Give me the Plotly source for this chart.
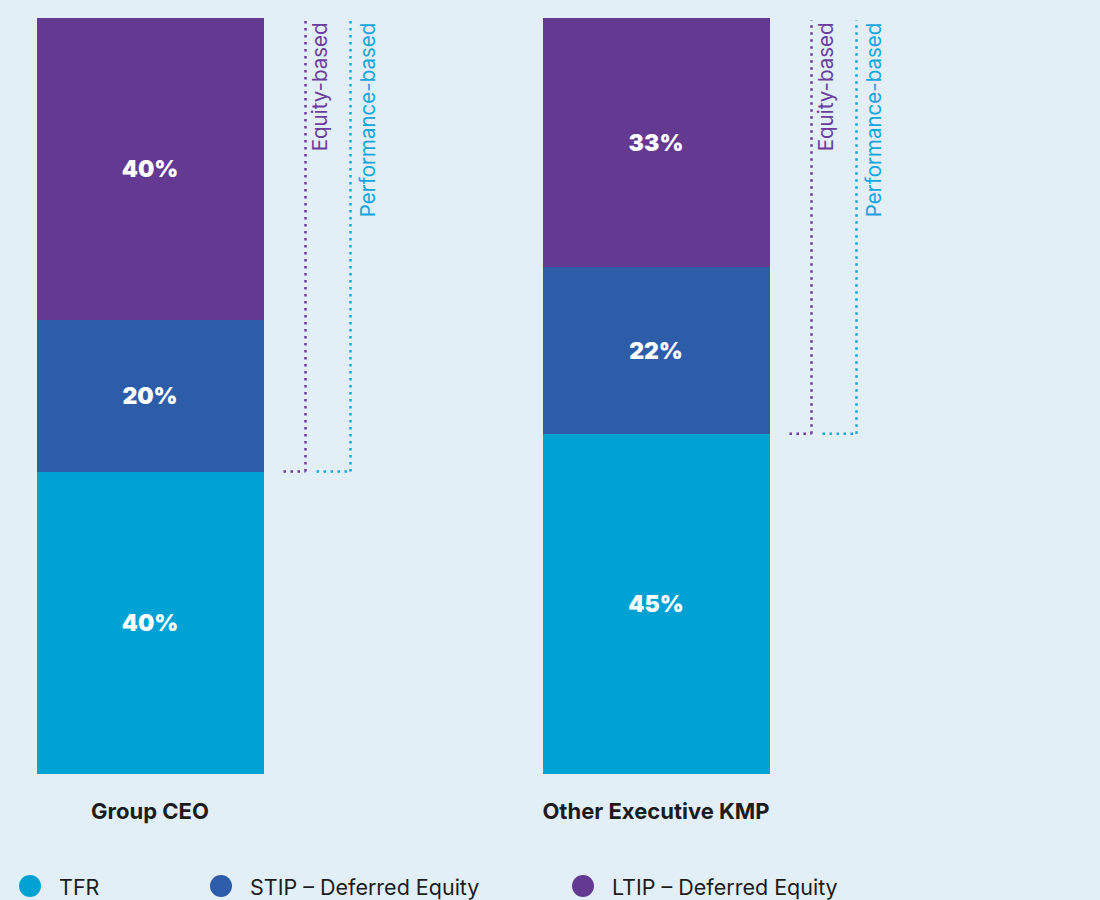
import plotly.graph_objects as go

categories = ["Group CEO", "Other Executive KMP"]
series_names = ["TFR", "STIP – Deferred Equity", "LTIP – Deferred Equity"]
tfr = [40, 45]
stip = [20, 22]
ltip = [40, 33]
colors = ["#00A2D4", "#2D5DA8", "#633991"]
bracket_labels = ["Equity-based", "Performance-based"]
bracket_colors = ["#6A3E9E", "#14A6DA"]

PX = 506.0  # pixels per x unit
xpos = [0, 1]
FONT = "Inter"
PLOT_TOP, PLOT_BOT = 18, 774


def py(p):
    return (PLOT_BOT - p) / (PLOT_BOT - PLOT_TOP)


fig = go.Figure()
for name, vals, col in zip(series_names, [tfr, stip, ltip], colors):
    fig.add_trace(go.Bar(
        x=xpos, y=vals, name=name, marker=dict(color=col, line=dict(width=0)),
        width=227 / PX, text=[f"{v}%" for v in vals], textposition="inside",
        insidetextanchor="middle", textangle=0,
        textfont=dict(family=FONT, size=23, color="white", weight=900),
        showlegend=False, hoverinfo="skip"))

shapes = []
annotations = []
for i, x in enumerate(xpos):
    edge = x + (227 / 2) / PX
    base = tfr[i]
    offs = [(20, 42, 56), (53, 87, 104)]
    for (h0, v, tx), col, lab in zip(offs, bracket_colors, bracket_labels):
        xv = edge + v / PX
        shapes.append(dict(type="line", xref="x", yref="y", x0=xv, x1=xv, y0=base, y1=99.7,
                           line=dict(color=col, width=2.5, dash="2.5px,4.5px")))
        shapes.append(dict(type="line", xref="x", yref="y", x0=edge + h0 / PX, x1=xv, y0=base, y1=base,
                           line=dict(color=col, width=2.5, dash="2.5px,4.5px")))
        annotations.append(dict(x=edge + tx / PX, y=99.7, xref="x", yref="y", text=lab,
                                textangle=-90, showarrow=False, xanchor="center", yanchor="top",
                                font=dict(family=FONT, size=20.5, color=col)))

# legend (manual, circles)
leg_x = [30, 221, 583]
for lx, name, col in zip(leg_x, series_names, colors):
    shapes.append(dict(type="circle", xref="paper", yref="paper",
                       x0=(lx - 11) / 1100, x1=(lx + 11) / 1100,
                       y0=py(897), y1=py(875),
                       fillcolor=col, line=dict(width=0)))
    annotations.append(dict(x=(lx + 27) / 1100, y=py(887), xref="paper", yref="paper",
                            text=name, showarrow=False, xanchor="left", yanchor="middle",
                            font=dict(family=FONT, size=21.5, color="#1C1C1C")))

fig.update_layout(
    barmode="stack", width=1100, height=900,
    margin=dict(l=0, r=0, t=PLOT_TOP, b=900 - PLOT_BOT),
    paper_bgcolor="#E2EFF7", plot_bgcolor="#E2EFF7",
    shapes=shapes, annotations=annotations,
    xaxis=dict(range=[-150 / PX, (1100 - 150) / PX], tickvals=xpos,
               ticktext=[f"<b>{c}</b>" for c in categories],
               tickfont=dict(family=FONT, size=22, color="#1C1C1C", weight=800),
               showgrid=False, zeroline=False, showline=False, ticks="",
               ticklabelstandoff=22),
    yaxis=dict(range=[0, 100], visible=False, showgrid=False),
    showlegend=False,
)
fig.write_html("out.html")
